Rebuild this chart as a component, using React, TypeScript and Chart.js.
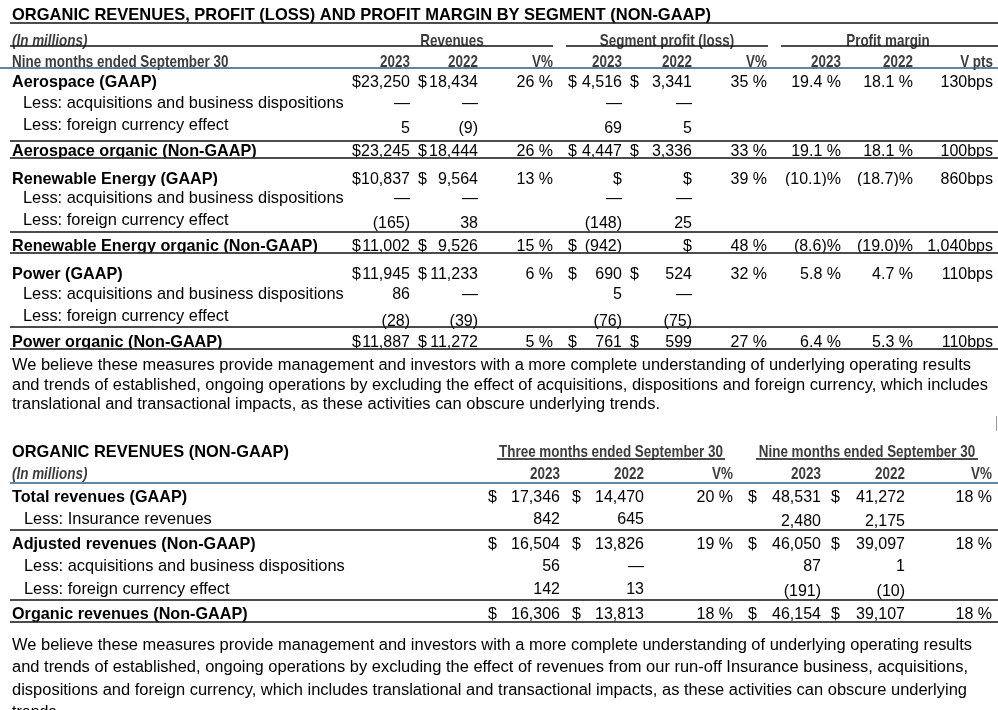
import { useEffect, useRef } from "react";
import { Chart, registerables } from "chart.js";
Chart.register(...registerables);

// ---------------- DATA ----------------
const segTitle = "ORGANIC REVENUES, PROFIT (LOSS) AND PROFIT MARGIN BY SEGMENT (NON-GAAP)";
const unitsLabel = "(In millions)";
const periodLabel = "Nine months ended September 30";
const segGroups = ["Revenues", "Segment profit (loss)", "Profit margin"];
const segColHeads = ["2023", "2022", "V%", "2023", "2022", "V%", "2023", "2022", "V pts"];
const segRowLabels = [
  "Aerospace (GAAP)",
  "Less: acquisitions and business dispositions",
  "Less: foreign currency effect",
  "Aerospace organic (Non-GAAP)",
  "Renewable Energy (GAAP)",
  "Less: acquisitions and business dispositions",
  "Less: foreign currency effect",
  "Renewable Energy organic (Non-GAAP)",
  "Power (GAAP)",
  "Less: acquisitions and business dispositions",
  "Less: foreign currency effect",
  "Power organic (Non-GAAP)",
];
const segRowKinds = ["main", "sub", "fx", "total", "main", "sub", "fx", "total", "main", "sub", "fx", "total"];
const revenues2023 = ["$23,250", "—", "5", "$23,245", "$10,837", "—", "(165)", "$11,002", "$11,945", "86", "(28)", "$11,887"];
const revenues2022 = ["$18,434", "—", "(9)", "$18,444", "$9,564", "—", "38", "$9,526", "$11,233", "—", "(39)", "$11,272"];
const revenuesV = ["26 %", "", "", "26 %", "13 %", "", "", "15 %", "6 %", "", "", "5 %"];
const profit2023 = ["$4,516", "—", "69", "$4,447", "$", "—", "(148)", "$ (942)", "$ 690", "5", "(76)", "$ 761"];
const profit2022 = ["$3,341", "—", "5", "$3,336", "$", "—", "25", "$", "$ 524", "—", "(75)", "$ 599"];
const profitV = ["35 %", "", "", "33 %", "39 %", "", "", "48 %", "32 %", "", "", "27 %"];
const margin2023 = ["19.4 %", "", "", "19.1 %", "(10.1)%", "", "", "(8.6)%", "5.8 %", "", "", "6.4 %"];
const margin2022 = ["18.1 %", "", "", "18.1 %", "(18.7)%", "", "", "(19.0)%", "4.7 %", "", "", "5.3 %"];
const marginV = ["130bps", "", "", "100bps", "860bps", "", "", "1,040bps", "110bps", "", "", "110bps"];
const note1 = [
  "We believe these measures provide management and investors with a more complete understanding of underlying operating results",
  "and trends of established, ongoing operations by excluding the effect of acquisitions, dispositions and foreign currency, which includes",
  "translational and transactional impacts, as these activities can obscure underlying trends.",
];

const revTitle = "ORGANIC REVENUES (NON-GAAP)";
const revGroups = ["Three months ended September 30", "Nine months ended September 30"];
const revColHeads = ["2023", "2022", "V%", "2023", "2022", "V%"];
const revRowLabels = [
  "Total revenues (GAAP)",
  "Less: Insurance revenues",
  "Adjusted revenues (Non-GAAP)",
  "Less: acquisitions and business dispositions",
  "Less: foreign currency effect",
  "Organic revenues (Non-GAAP)",
];
const revRowKinds = ["main", "sub", "total", "sub", "fx", "total"];
const q2023 = ["$ 17,346", "842", "$ 16,504", "56", "142", "$ 16,306"];
const q2022 = ["$ 14,470", "645", "$ 13,826", "—", "13", "$ 13,813"];
const qV = ["20 %", "", "19 %", "", "", "18 %"];
const n2023 = ["$ 48,531", "2,480", "$ 46,050", "87", "(191)", "$ 46,154"];
const n2022 = ["$ 41,272", "2,175", "$ 39,097", "1", "(10)", "$ 39,107"];
const nV = ["18 %", "", "18 %", "", "", "18 %"];
const note2 = [
  "We believe these measures provide management and investors with a more complete understanding of underlying operating results",
  "and trends of established, ongoing operations by excluding the effect of revenues from our run-off Insurance business, acquisitions,",
  "dispositions and foreign currency, which includes translational and transactional impacts, as these activities can obscure underlying",
  "trends.",
];

// ---------------- LAYOUT ----------------
const W = 998;
const H = 710;
const FAM = "'Liberation Sans', Arial, Helvetica, sans-serif";
const F_REG = `16px ${FAM}`;
const F_LABEL = `16.4px ${FAM}`;
const F_BOLD = `bold 16.2px ${FAM}`;
const F_HEAD = `bold 17px ${FAM}`;
const F_HEAD_IT = `italic bold 17px ${FAM}`;
const HEAD_SX = 0.79;
const HEAD_COLOR = "#3c3c3c";
const BLUE = "#2e5d88";
const TEXT_DY = 1.5;

const segLayout = {
  titleY: 14, titleW: 699, titleLineY: 23,
  headY1: 40, headY2: 61, groupLineY: 46, blueLineY: 68,
  groupCenters: [452, 667, 888],
  groupLines: [[10, 553], [566, 768], [781, 998]],
  colRight: [410, 478, 553, 622, 692, 767, 841, 913, 993],
  dollarX: [352, 418, 0, 568, 630, 0, 0, 0, 0],
  rowY: [81, 102, 124, 150, 178, 197, 219, 245, 273, 293, 315, 341],
  valShift: [0, 0, 3, 0, 0, 0, 3, 0, 0, 0, 5, 0],
  clipBottom: [0, 0, 0, 157.5, 186, 0, 0, 252.5, 0, 0, 0, 348.5],
  lines: [141, 158, 232, 253, 327, 349],
  noteY: [364, 384, 403],
  noteW: [959, 976, 648],
};
const revLayout = {
  titleY: 451, titleW: 277, headY1: 451, groupLineY: 459, headY2: 473, blueLineY: 483,
  groupSpans: [[497, 725], [756, 978]],
  colRight: [560, 644, 733, 821, 905, 992],
  dollarX: [488, 572, 0, 748, 831, 0],
  rowY: [496, 518, 543, 565, 588, 613],
  valShiftNine: [0, 2, 0, 0, 2, 0],
  lines: [530, 600, 622],
  noteY: [644, 666, 689, 711],
  noteW: [960, 956, 955, 0],
};

type TOpts = { font: string; align?: CanvasTextAlign; color?: string; sx?: number; fitW?: number };

function drawText(ctx: CanvasRenderingContext2D, s: string, x: number, y: number, o: TOpts) {
  ctx.save();
  ctx.font = o.font;
  ctx.fillStyle = o.color ?? "#000";
  ctx.textBaseline = "middle";
  ctx.textAlign = o.align ?? "left";
  let sx = o.sx ?? 1;
  if (o.fitW) sx = o.fitW / ctx.measureText(s).width;
  ctx.translate(x, y + TEXT_DY);
  ctx.scale(sx, 1);
  ctx.fillText(s, 0, 0);
  ctx.restore();
}

function hline(ctx: CanvasRenderingContext2D, x1: number, x2: number, y: number, color = "#111", w = 1.3) {
  ctx.save();
  ctx.strokeStyle = color;
  ctx.lineWidth = w;
  ctx.beginPath();
  ctx.moveTo(x1, y);
  ctx.lineTo(x2, y);
  ctx.stroke();
  ctx.restore();
}

function drawValue(ctx: CanvasRenderingContext2D, v: string, right: number, dollarX: number, y: number) {
  if (!v) return;
  if (v.startsWith("$") && v.length > 1) {
    drawText(ctx, "$", dollarX, y, { font: F_REG });
    drawText(ctx, v.slice(1).trim(), right, y, { font: F_REG, align: "right" });
  } else {
    drawText(ctx, v, right, y, { font: F_REG, align: "right" });
  }
}

const tablePlugin = {
  id: "tableText",
  afterDraw(chart: any) {
    const ctx: CanvasRenderingContext2D = chart.ctx;
    const sx = chart.scales.x;
    const sy = chart.scales.y;
    const X = (v: number) => sx.getPixelForValue(v);
    const Y = (v: number) => sy.getPixelForValue(v);

    // ---- Segment table ----
    const L = segLayout;
    drawText(ctx, segTitle, X(12), Y(L.titleY), { font: F_BOLD, fitW: L.titleW });
    hline(ctx, X(10), X(998), Y(L.titleLineY));
    drawText(ctx, unitsLabel, X(12), Y(L.headY1), { font: F_HEAD_IT, sx: HEAD_SX, color: HEAD_COLOR });
    segGroups.forEach((g, i) =>
      drawText(ctx, g, X(L.groupCenters[i]), Y(L.headY1), { font: F_HEAD, sx: HEAD_SX, color: HEAD_COLOR, align: "center" })
    );
    L.groupLines.forEach(([a, b]) => hline(ctx, X(a), X(b), Y(L.groupLineY)));
    drawText(ctx, periodLabel, X(12), Y(L.headY2), { font: F_HEAD, sx: HEAD_SX, color: HEAD_COLOR });
    segColHeads.forEach((h, i) =>
      drawText(ctx, h, X(L.colRight[i]), Y(L.headY2), { font: F_HEAD, sx: HEAD_SX, color: HEAD_COLOR, align: "right" })
    );
    hline(ctx, X(0), X(998), Y(L.blueLineY), BLUE, 1.5);

    const cols = [revenues2023, revenues2022, revenuesV, profit2023, profit2022, profitV, margin2023, margin2022, marginV];
    segRowLabels.forEach((lab, r) => {
      const kind = segRowKinds[r];
      const y = Y(L.rowY[r]);
      ctx.save();
      if (L.clipBottom[r]) {
        ctx.beginPath();
        ctx.rect(0, 0, chart.width, Y(L.clipBottom[r]));
        ctx.clip();
      }
      const bold = kind === "main" || kind === "total";
      drawText(ctx, lab, X(bold ? 12 : 23), y, { font: bold ? F_BOLD : F_LABEL });
      const vy = Y(L.rowY[r] + L.valShift[r]);
      cols.forEach((c, ci) => drawValue(ctx, c[r], X(L.colRight[ci]), X(L.dollarX[ci]), vy));
      ctx.restore();
    });
    L.lines.forEach((ly) => hline(ctx, X(10), X(998), Y(ly)));
    note1.forEach((t, i) => drawText(ctx, t, X(12), Y(L.noteY[i]), { font: F_REG, fitW: L.noteW[i] }));

    // small caret mark at right edge
    ctx.save();
    ctx.strokeStyle = "#9a9a9a";
    ctx.lineWidth = 1;
    ctx.beginPath();
    ctx.moveTo(X(996.5), Y(416));
    ctx.lineTo(X(996.5), Y(431));
    ctx.stroke();
    ctx.restore();

    // ---- Revenue table ----
    const R = revLayout;
    drawText(ctx, revTitle, X(12), Y(R.titleY), { font: F_BOLD, fitW: R.titleW });
    revGroups.forEach((g, i) => {
      const [a, b] = R.groupSpans[i];
      drawText(ctx, g, X((a + b) / 2), Y(R.headY1), { font: F_HEAD, sx: HEAD_SX, color: HEAD_COLOR, align: "center" });
      hline(ctx, X(a), X(b), Y(R.groupLineY));
    });
    drawText(ctx, unitsLabel, X(12), Y(R.headY2), { font: F_HEAD_IT, sx: HEAD_SX, color: HEAD_COLOR });
    revColHeads.forEach((h, i) =>
      drawText(ctx, h, X(R.colRight[i]), Y(R.headY2), { font: F_HEAD, sx: HEAD_SX, color: HEAD_COLOR, align: "right" })
    );
    hline(ctx, X(10), X(998), Y(R.blueLineY), BLUE, 1.5);
    const rcols = [q2023, q2022, qV, n2023, n2022, nV];
    revRowLabels.forEach((lab, r) => {
      const kind = revRowKinds[r];
      const bold = kind === "main" || kind === "total";
      drawText(ctx, lab, X(bold ? 12 : 24), Y(R.rowY[r]), { font: bold ? F_BOLD : F_LABEL });
      rcols.forEach((c, ci) => {
        const shift = ci >= 3 ? R.valShiftNine[r] : 0;
        drawValue(ctx, c[r], X(R.colRight[ci]), X(R.dollarX[ci]), Y(R.rowY[r] + shift));
      });
    });
    R.lines.forEach((ly) => hline(ctx, X(10), X(998), Y(ly)));
    note2.forEach((t, i) =>
      drawText(ctx, t, X(12), Y(R.noteY[i]), R.noteW[i] ? { font: F_REG, fitW: R.noteW[i] } : { font: F_REG })
    );
  },
};

export default function App() {
  const ref = useRef<HTMLCanvasElement>(null);
  useEffect(() => {
    document.body.style.margin = "0";
    document.body.style.background = "#fff";
    const chart = new Chart(ref.current as HTMLCanvasElement, {
      type: "scatter",
      data: { datasets: [] },
      options: {
        responsive: false,
        animation: false,
        devicePixelRatio: 1,
        layout: { padding: 0 },
        plugins: { legend: { display: false }, tooltip: { enabled: false } },
        scales: {
          x: { type: "linear", min: 0, max: W, display: false },
          y: { type: "linear", min: 0, max: H, reverse: true, display: false },
        },
      },
      plugins: [tablePlugin],
    } as any);
    return () => chart.destroy();
  }, []);
  return <canvas ref={ref} width={W} height={H} style={{ display: "block", width: W, height: H }} />;
}
